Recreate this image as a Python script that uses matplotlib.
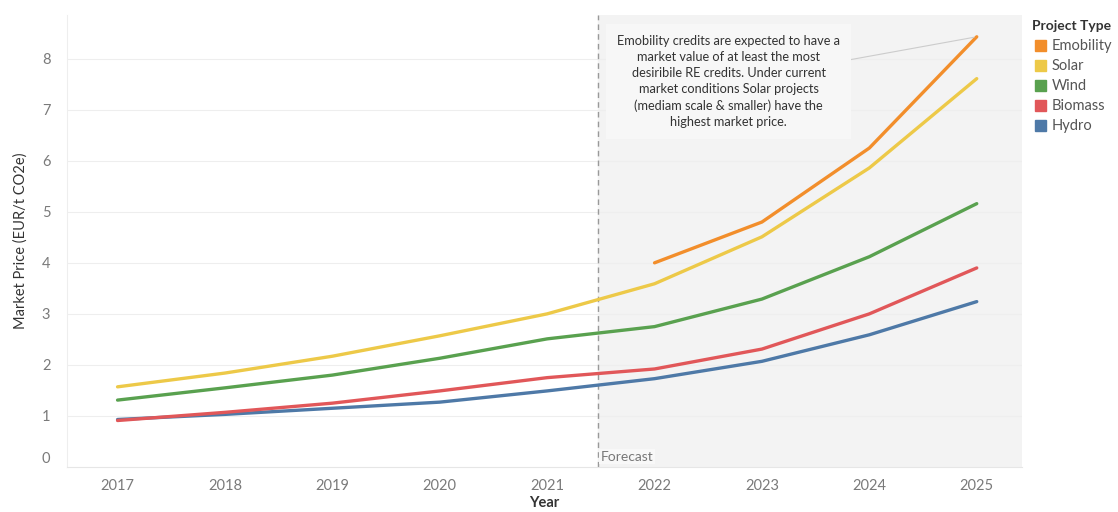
import numpy as np
import matplotlib
matplotlib.use("Agg")
import matplotlib.pyplot as plt
import matplotlib.transforms as mtransforms

plt.rcParams['font.family'] = ['Lato', 'DejaVu Sans']

years = [2017, 2018, 2019, 2020, 2021, 2022, 2023, 2024, 2025]
emob_years = [2022, 2023, 2024, 2025]
emobility = [4.00, 4.80, 6.25, 8.43]
solar = [1.57, 1.84, 2.17, 2.57, 3.00, 3.59, 4.51, 5.86, 7.61]
wind = [1.31, 1.55, 1.80, 2.13, 2.51, 2.75, 3.29, 4.12, 5.16]
biomass = [0.91, 1.07, 1.25, 1.49, 1.75, 1.92, 2.31, 3.00, 3.90]
hydro = [0.93, 1.03, 1.15, 1.27, 1.49, 1.73, 2.07, 2.59, 3.24]
forecast_start = 2021.47

colors = {"Emobility": "#f28e2b", "Solar": "#edc948", "Wind": "#59a14f",
          "Biomass": "#e15759", "Hydro": "#4e79a7"}

fig = plt.figure(figsize=(11.18, 5.12), dpi=100)
ax = fig.add_axes([0.060, 0.088, 0.854, 0.883])

ax.set_xlim(2016.53, 2025.42)
ax.set_ylim(0, 8.86)

# forecast area
ax.axvspan(forecast_start, 2025.42, color="#f3f3f3", zorder=0)
ax.axvline(forecast_start, color="#999999", linestyle=(0, (4, 3)), linewidth=1, zorder=1)
ax.text(forecast_start + 0.03, 0.08, "Forecast", color="#777777", fontsize=10,
        ha="left", va="bottom", zorder=5,
        bbox=dict(facecolor="#f8f8f8", edgecolor="none", pad=1))

for y in range(1, 9):
    ax.axhline(y, color="#eeeeee", linewidth=0.8, zorder=0.5)

lw = 2.4
ax.plot(years, hydro, color=colors["Hydro"], lw=lw, solid_capstyle="round", zorder=3)
ax.plot(years, biomass, color=colors["Biomass"], lw=lw, solid_capstyle="round", zorder=3)
ax.plot(years, wind, color=colors["Wind"], lw=lw, solid_capstyle="round", zorder=3)
ax.plot(years, solar, color=colors["Solar"], lw=lw, solid_capstyle="round", zorder=3)
ax.plot(emob_years, emobility, color=colors["Emobility"], lw=lw, solid_capstyle="round", zorder=3)

ax.set_xticks(years)
ax.set_xticklabels([str(y) for y in years])
ax.set_yticks(range(0, 9))
ax.tick_params(axis="both", length=0, labelcolor="#7a7a7a", labelsize=10.5)
ax.tick_params(axis="x", pad=9)
ax.tick_params(axis="y", pad=12)
# the zero label sits a little above the axis line, like the original
zero_lbl = ax.get_yticklabels()[0]
zero_lbl.set_transform(zero_lbl.get_transform() +
                       mtransforms.ScaledTranslation(0, 9 / 100, fig.dpi_scale_trans))
for s in ["top", "right"]:
    ax.spines[s].set_visible(False)
ax.spines["left"].set_color("#eeeeee")
ax.spines["bottom"].set_color("#e6e6e6")

ax.set_ylabel("Market Price (EUR/t CO2e)", fontsize=10.5, color="#333333", labelpad=10)
ax.set_xlabel("Year", fontsize=10.5, color="#333333", fontweight="bold", labelpad=2)

# annotation
note = ("Emobility credits are expected to have a\nmarket value of at least the most\n"
        "desiribile RE credits. Under current\nmarket conditions Solar projects\n"
        "(mediam scale & smaller) have the\nhighest market price.")
ax.annotate(note, xy=(2025, emobility[-1]), xytext=(2022.69, 7.55),
            fontsize=9.2, color="#333333", ha="center", va="center", linespacing=1.4,
            bbox=dict(boxstyle="square,pad=0.85", facecolor="#f7f7f7", edgecolor="none"),
            arrowprops=dict(arrowstyle="-", color="#cccccc", lw=0.8,
                            shrinkA=0, shrinkB=2),
            zorder=4)

# legend
fig.text(1032 / 1118, 1 - 26 / 512, "Project Type", fontsize=10, fontweight="bold",
         color="#333333", va="center", ha="left")
for i, name in enumerate(["Emobility", "Solar", "Wind", "Biomass", "Hydro"]):
    yy = 1 - (46 + i * 20) / 512
    fig.patches.append(plt.Rectangle((1035 / 1118, yy - 5 / 512), 11 / 1118, 11 / 512,
                                     transform=fig.transFigure, color=colors[name]))
    fig.text(1052 / 1118, yy, name, fontsize=10.5, color="#555555", va="center", ha="left")

fig.savefig("out.png", dpi=100)
